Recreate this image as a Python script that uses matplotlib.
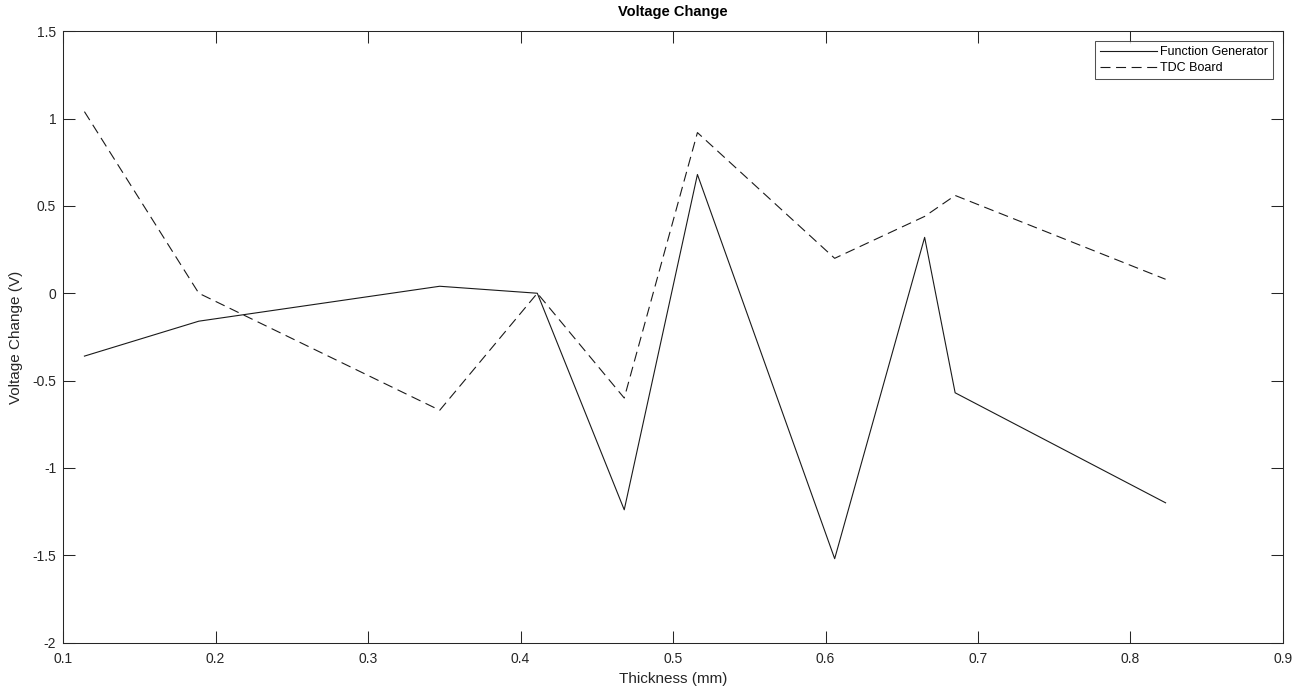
import matplotlib
matplotlib.use("Agg")
import matplotlib.pyplot as plt

# thickness (mm)
thickness = [0.114, 0.189, 0.347, 0.411, 0.468, 0.516, 0.606, 0.665, 0.685, 0.823]
function_generator = [-0.36, -0.16, 0.04, 0.0, -1.24, 0.68, -1.52, 0.32, -0.57, -1.20]
tdc_board = [1.04, 0.0, -0.67, 0.0, -0.60, 0.92, 0.20, 0.44, 0.56, 0.08]

x_ticks = [0.1, 0.2, 0.3, 0.4, 0.5, 0.6, 0.7, 0.8, 0.9]
y_ticks = [-2, -1.5, -1, -0.5, 0, 0.5, 1, 1.5]

plt.rcParams.update(
    {
        "font.family": ["Liberation Sans", "DejaVu Sans"],
        "font.size": 10,
        "axes.linewidth": 0.75,
        "axes.edgecolor": "#262626",
        "xtick.color": "#262626",
        "ytick.color": "#262626",
        "xtick.direction": "in",
        "ytick.direction": "in",
        "xtick.major.size": 8.6,
        "ytick.major.size": 8.6,
        "xtick.major.width": 0.75,
        "ytick.major.width": 0.75,
    }
)

fig = plt.figure(figsize=(13.14, 6.94), dpi=100)
ax = fig.add_axes([0.048, 0.0742, 0.9284, 0.8807])

ax.plot(thickness, function_generator, color="#1a1a1a", linewidth=0.8, label="Function Generator")
ax.plot(thickness, tdc_board, color="#1a1a1a", linewidth=0.8, linestyle=(0, (9, 5)), label="TDC Board")

ax.set_xlim(0.1, 0.9)
ax.set_ylim(-2, 1.5)
ax.set_xticks(x_ticks)
ax.set_xticklabels([f"{t:g}" for t in x_ticks])
ax.set_yticks(y_ticks)
ax.set_yticklabels([f"{t:g}" for t in y_ticks])
ax.tick_params(top=True, right=True, labelsize=10)
ax.tick_params(axis="x", pad=7)
ax.tick_params(axis="y", pad=5)

ax.set_title("Voltage Change", fontsize=10.5, fontweight="bold", color="black", pad=11)
ax.set_xlabel("Thickness (mm)", fontsize=11, color="#262626", labelpad=4)
ax.set_ylabel("Voltage Change (V)", fontsize=11, color="#262626", labelpad=7)

leg = ax.legend(
    loc="upper right",
    fontsize=9,
    frameon=True,
    fancybox=False,
    edgecolor="#262626",
    handlelength=4.6,
    handletextpad=0.2,
    borderpad=0.4,
    labelspacing=0.3,
    borderaxespad=0.8,
)
leg.get_frame().set_linewidth(0.75)

fig.savefig("out.png", dpi=100, facecolor="white")
